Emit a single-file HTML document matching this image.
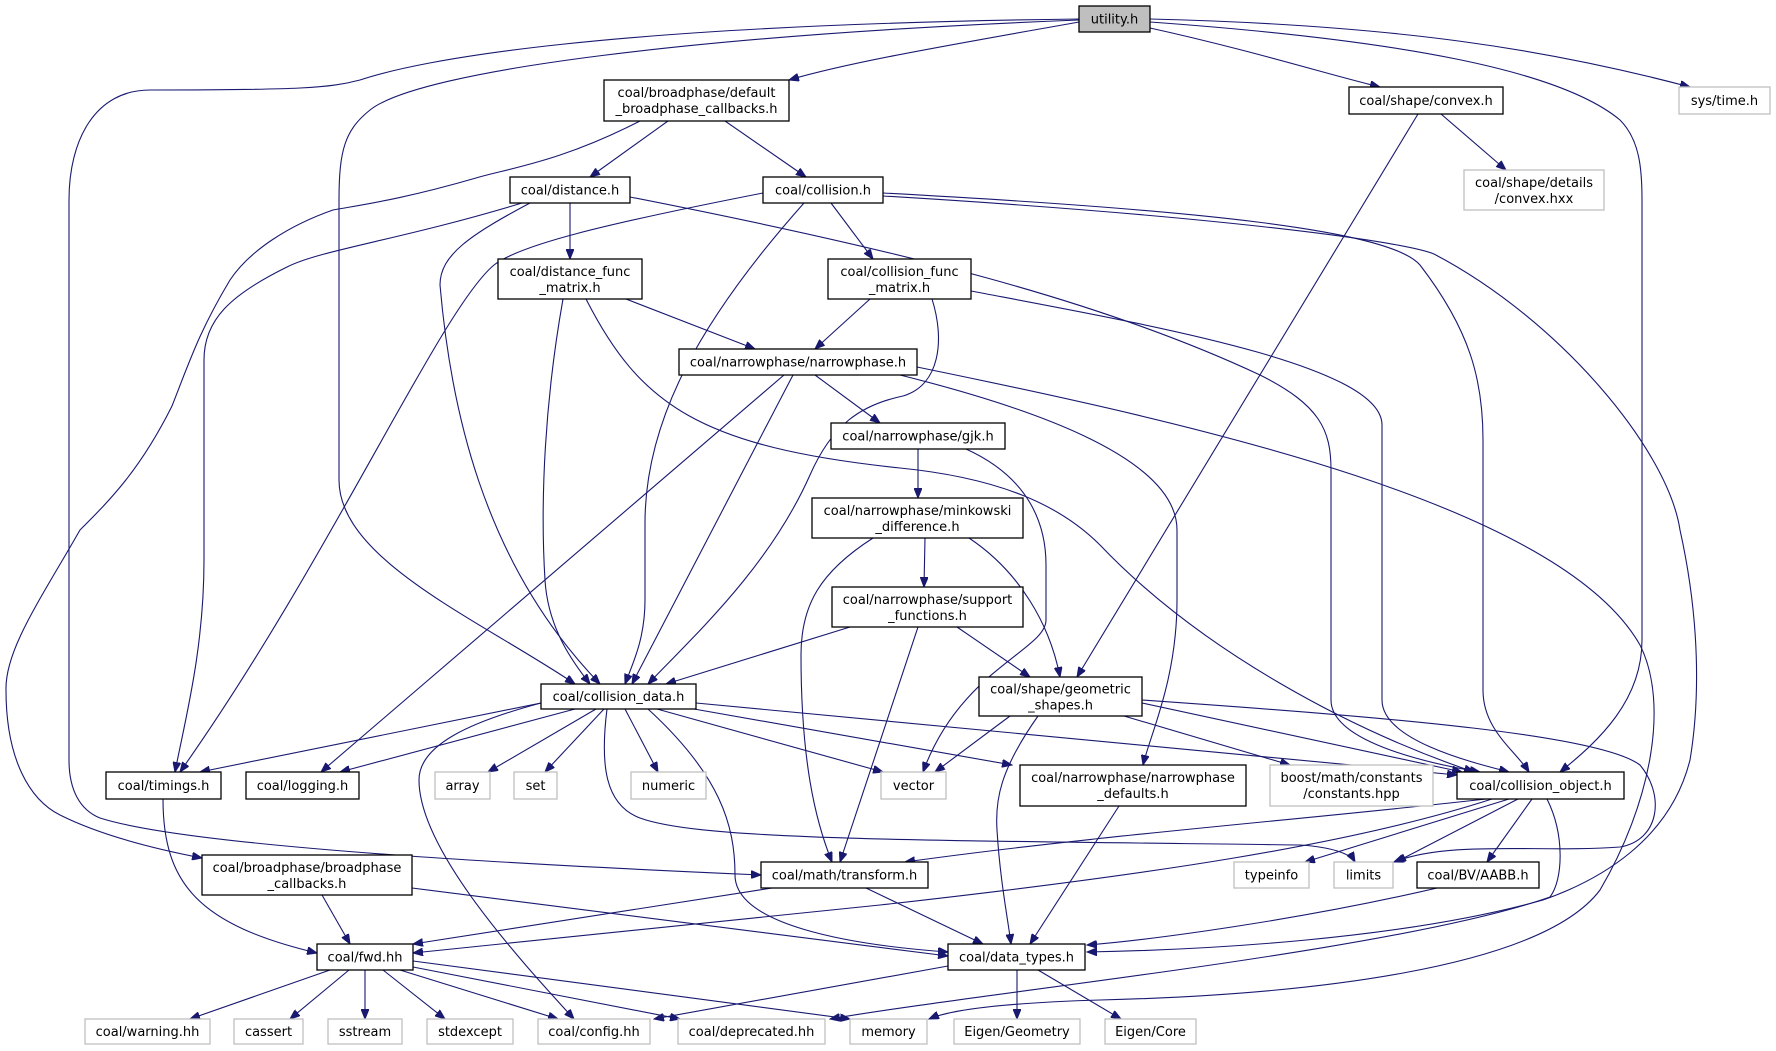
<!DOCTYPE html>
<html><head><meta charset="utf-8"><style>
html,body{margin:0;padding:0;background:#fff}
svg{display:block}
text{font-family:"DejaVu Sans","Liberation Sans",sans-serif;font-size:13px;fill:#000}
.e{fill:none;stroke:#191970;stroke-width:1.1}
.n{fill:#fff;stroke:#000;stroke-width:1.3}
.g{fill:#fff;stroke:#bfbfbf;stroke-width:1.3}
</style></head><body>
<svg width="1776" height="1051" viewBox="0 0 1776 1051" xmlns="http://www.w3.org/2000/svg">
<defs><marker id="a" markerWidth="11" markerHeight="8" refX="10" refY="4" orient="auto" markerUnits="userSpaceOnUse"><path d="M0,0 L10,4 L0,8 z" fill="#191970" stroke="#191970"/></marker></defs>
<g marker-end="url(#a)">
<path class="e" d="M1079,22 C950,45 850,62 789,80"/>
<path class="e" d="M1150,28 C1250,50 1330,75 1380,87"/>
<path class="e" d="M1150,19 C1400,25 1550,50 1690,87"/>
<path class="e" d="M1150,22 C1400,40 1560,70 1620,120 C1640,140 1642,170 1642,200 L1642,640 C1642,700 1600,740 1560,772"/>
<path class="e" d="M1079,20 C700,35 420,70 370,110 C345,130 339,150 339,200 L339,480 C339,560 480,620 575,684"/>
<path class="e" d="M1079,19 C600,25 420,60 360,80 C330,88 300,90 150,90 C95,90 69,140 69,200 L69,760 C69,790 80,810 100,818 C200,850 600,868 761,875"/>
<path class="e" d="M668,121 L590,177"/>
<path class="e" d="M725,121 L806,177"/>
<path class="e" d="M640,121 C560,162 510,168 476,178 C400,200 360,205 333,210 C290,225 250,250 230,280 C200,330 190,360 172,406 C140,470 110,500 80,530 C40,600 5,650 6,690 C6,760 30,800 60,815 C100,835 150,848 202,858"/>
<path class="e" d="M570,203 L570,259"/>
<path class="e" d="M522,203 C400,240 320,250 287,267 C230,295 204,320 204,360 L204,560 C204,650 185,720 175,772"/>
<path class="e" d="M530,203 C470,235 440,255 440,285 C450,400 480,560 600,684"/>
<path class="e" d="M630,197 C900,250 1100,300 1260,375 C1320,405 1331,430 1331,470 L1331,700 C1331,740 1420,762 1480,772"/>
<path class="e" d="M831,203 L873,259"/>
<path class="e" d="M763,193 C600,225 520,245 494,265 C440,310 330,560 180,772"/>
<path class="e" d="M804,203 C700,320 645,420 645,523 L645,600 C645,640 632,665 625,684"/>
<path class="e" d="M883,193 C1200,210 1390,230 1420,265 C1470,330 1483,380 1483,440 L1483,690 C1483,730 1515,750 1529,772"/>
<path class="e" d="M883,196 C1200,215 1400,240 1434,254 C1560,320 1668,450 1680,530 C1700,620 1700,700 1690,760 C1670,840 1600,880 1543,900 C1400,940 1200,950 1087,952"/>
<path class="e" d="M870,299 L815,349"/>
<path class="e" d="M932,299 C945,340 940,385 903,396 C860,405 832,425 810,475 C770,565 700,630 648,684"/>
<path class="e" d="M971,291 C1150,325 1382,365 1382,425 L1382,700 C1382,740 1470,762 1509,772"/>
<path class="e" d="M626,299 L755,349"/>
<path class="e" d="M563,299 C545,400 540,500 545,580 C548,630 575,665 590,684"/>
<path class="e" d="M586,299 C640,405 700,447 900,468 C1000,478 1060,505 1100,545 C1200,650 1350,730 1474,772"/>
<path class="e" d="M815,375 L880,423"/>
<path class="e" d="M784,375 L321,772"/>
<path class="e" d="M793,375 L632,684"/>
<path class="e" d="M900,375 C1020,405 1177,455 1177,530 L1177,600 C1177,680 1150,735 1143,765"/>
<path class="e" d="M917,367 C1200,425 1560,505 1640,645 C1670,705 1650,805 1600,890 C1540,970 1300,995 1100,1000 C1000,1003 950,1010 929,1019"/>
<path class="e" d="M918,449 L918,498"/>
<path class="e" d="M966,449 C1030,478 1046,525 1046,565 L1046,620 C1046,650 960,670 923,772"/>
<path class="e" d="M925,538 L924,587"/>
<path class="e" d="M873,538 C820,572 801,605 801,655 C801,760 815,820 832,862"/>
<path class="e" d="M969,538 C1020,572 1050,625 1060,677"/>
<path class="e" d="M850,627 L666,684"/>
<path class="e" d="M918,627 L840,862"/>
<path class="e" d="M957,627 L1030,677"/>
<path class="e" d="M1441,114 L1506,170"/>
<path class="e" d="M1418,114 L1077,677"/>
<path class="e" d="M541,703 L200,772"/>
<path class="e" d="M575,709 L340,772"/>
<path class="e" d="M596,709 L488,772"/>
<path class="e" d="M604,709 L545,772"/>
<path class="e" d="M625,709 L658,772"/>
<path class="e" d="M657,709 L883,772"/>
<path class="e" d="M694,709 L1012,765"/>
<path class="e" d="M696,703 C1000,730 1300,760 1457,775"/>
<path class="e" d="M541,703 C470,722 419,745 419,780 C419,850 520,960 574,1019"/>
<path class="e" d="M607,709 C600,765 605,805 640,818 C700,840 900,840 1300,845 C1330,847 1350,853 1355,862"/>
<path class="e" d="M648,709 C720,775 735,825 735,875 C735,925 850,945 948,952"/>
<path class="e" d="M1010,716 L935,772"/>
<path class="e" d="M1038,716 C1000,770 995,800 997,830 C1000,880 1008,920 1011,944"/>
<path class="e" d="M1124,716 L1290,765"/>
<path class="e" d="M1142,703 L1462,772"/>
<path class="e" d="M1142,700 C1400,718 1600,735 1640,765 C1665,795 1660,840 1620,847 C1540,853 1450,840 1394,862"/>
<path class="e" d="M1119,806 L1030,944"/>
<path class="e" d="M1486,799 C1300,820 1100,835 905,862"/>
<path class="e" d="M1492,799 C1350,845 1150,875 880,905 L413,953"/>
<path class="e" d="M1509,799 L1305,862"/>
<path class="e" d="M1518,799 L1396,862"/>
<path class="e" d="M1532,799 L1487,862"/>
<path class="e" d="M1547,799 C1565,835 1563,880 1550,897 C1400,950 1000,990 830,1019"/>
<path class="e" d="M1437,888 C1300,920 1150,940 1087,945"/>
<path class="e" d="M772,888 L413,944"/>
<path class="e" d="M866,888 L983,944"/>
<path class="e" d="M322,895 L350,944"/>
<path class="e" d="M412,888 L948,956"/>
<path class="e" d="M163,799 C163,885 200,925 317,953"/>
<path class="e" d="M330,970 L190,1019"/>
<path class="e" d="M349,970 L290,1019"/>
<path class="e" d="M365,970 L365,1019"/>
<path class="e" d="M383,970 L445,1019"/>
<path class="e" d="M400,970 L558,1019"/>
<path class="e" d="M413,967 L680,1019"/>
<path class="e" d="M413,961 L850,1019"/>
<path class="e" d="M1017,970 L1017,1019"/>
<path class="e" d="M1038,970 L1121,1019"/>
<path class="e" d="M948,966 L654,1019"/>
</g>
<g text-anchor="middle">
<rect x="1079" y="6" width="71" height="26" fill="#bfbfbf" stroke="#000" stroke-width="1.3"/><text x="1114.5" y="23.5">utility.h</text>
<rect class="n" x="604" y="80" width="185" height="41"/><text x="696.5" y="97">coal/broadphase/default</text><text x="696.5" y="113">_broadphase_callbacks.h</text>
<rect class="n" x="1349" y="87" width="154" height="27"/><text x="1426" y="105">coal/shape/convex.h</text>
<rect class="g" x="1679" y="87" width="91" height="27"/><text x="1724.5" y="105">sys/time.h</text>
<rect class="g" x="1464" y="170" width="140" height="40"/><text x="1534" y="187">coal/shape/details</text><text x="1534" y="203">/convex.hxx</text>
<rect class="n" x="510" y="177" width="120" height="26"/><text x="570" y="194.5">coal/distance.h</text>
<rect class="n" x="763" y="177" width="120" height="26"/><text x="823" y="194.5">coal/collision.h</text>
<rect class="n" x="498" y="259" width="144" height="40"/><text x="570" y="276">coal/distance_func</text><text x="570" y="292">_matrix.h</text>
<rect class="n" x="828" y="259" width="143" height="40"/><text x="899.5" y="276">coal/collision_func</text><text x="899.5" y="292">_matrix.h</text>
<rect class="n" x="679" y="349" width="238" height="26"/><text x="798" y="366.5">coal/narrowphase/narrowphase.h</text>
<rect class="n" x="831" y="423" width="174" height="26"/><text x="918" y="440.5">coal/narrowphase/gjk.h</text>
<rect class="n" x="812" y="498" width="211" height="40"/><text x="917.5" y="515">coal/narrowphase/minkowski</text><text x="917.5" y="531">_difference.h</text>
<rect class="n" x="832" y="587" width="191" height="40"/><text x="927.5" y="604">coal/narrowphase/support</text><text x="927.5" y="620">_functions.h</text>
<rect class="n" x="541" y="684" width="155" height="25"/><text x="618.5" y="701">coal/collision_data.h</text>
<rect class="n" x="979" y="677" width="163" height="39"/><text x="1060.5" y="693.5">coal/shape/geometric</text><text x="1060.5" y="709.5">_shapes.h</text>
<rect class="n" x="106" y="772" width="115" height="27"/><text x="163.5" y="790">coal/timings.h</text>
<rect class="n" x="246" y="772" width="113" height="27"/><text x="302.5" y="790">coal/logging.h</text>
<rect class="g" x="435" y="772" width="55" height="27"/><text x="462.5" y="790">array</text>
<rect class="g" x="514" y="772" width="43" height="27"/><text x="535.5" y="790">set</text>
<rect class="g" x="631" y="772" width="75" height="27"/><text x="668.5" y="790">numeric</text>
<rect class="g" x="881" y="772" width="65" height="27"/><text x="913.5" y="790">vector</text>
<rect class="n" x="1020" y="765" width="226" height="41"/><text x="1133" y="782">coal/narrowphase/narrowphase</text><text x="1133" y="798">_defaults.h</text>
<rect class="g" x="1270" y="765" width="163" height="41"/><text x="1351.5" y="782">boost/math/constants</text><text x="1351.5" y="798">/constants.hpp</text>
<rect class="n" x="1457" y="772" width="167" height="27"/><text x="1540.5" y="790">coal/collision_object.h</text>
<rect class="n" x="202" y="855" width="210" height="40"/><text x="307" y="872">coal/broadphase/broadphase</text><text x="307" y="888">_callbacks.h</text>
<rect class="n" x="761" y="862" width="167" height="26"/><text x="844.5" y="879.5">coal/math/transform.h</text>
<rect class="g" x="1234" y="862" width="75" height="26"/><text x="1271.5" y="879.5">typeinfo</text>
<rect class="g" x="1334" y="862" width="59" height="26"/><text x="1363.5" y="879.5">limits</text>
<rect class="n" x="1417" y="862" width="122" height="26"/><text x="1478" y="879.5">coal/BV/AABB.h</text>
<rect class="n" x="317" y="944" width="96" height="26"/><text x="365" y="961.5">coal/fwd.hh</text>
<rect class="n" x="948" y="944" width="137" height="26"/><text x="1016.5" y="961.5">coal/data_types.h</text>
<rect class="g" x="85" y="1019" width="125" height="25"/><text x="147.5" y="1036">coal/warning.hh</text>
<rect class="g" x="234" y="1019" width="69" height="25"/><text x="268.5" y="1036">cassert</text>
<rect class="g" x="328" y="1019" width="74" height="25"/><text x="365" y="1036">sstream</text>
<rect class="g" x="427" y="1019" width="86" height="25"/><text x="470" y="1036">stdexcept</text>
<rect class="g" x="538" y="1019" width="112" height="25"/><text x="594" y="1036">coal/config.hh</text>
<rect class="g" x="678" y="1019" width="147" height="25"/><text x="751.5" y="1036">coal/deprecated.hh</text>
<rect class="g" x="850" y="1019" width="77" height="25"/><text x="888.5" y="1036">memory</text>
<rect class="g" x="954" y="1019" width="126" height="25"/><text x="1017" y="1036">Eigen/Geometry</text>
<rect class="g" x="1105" y="1019" width="91" height="25"/><text x="1150.5" y="1036">Eigen/Core</text>
</g>
</svg>
</body></html>
